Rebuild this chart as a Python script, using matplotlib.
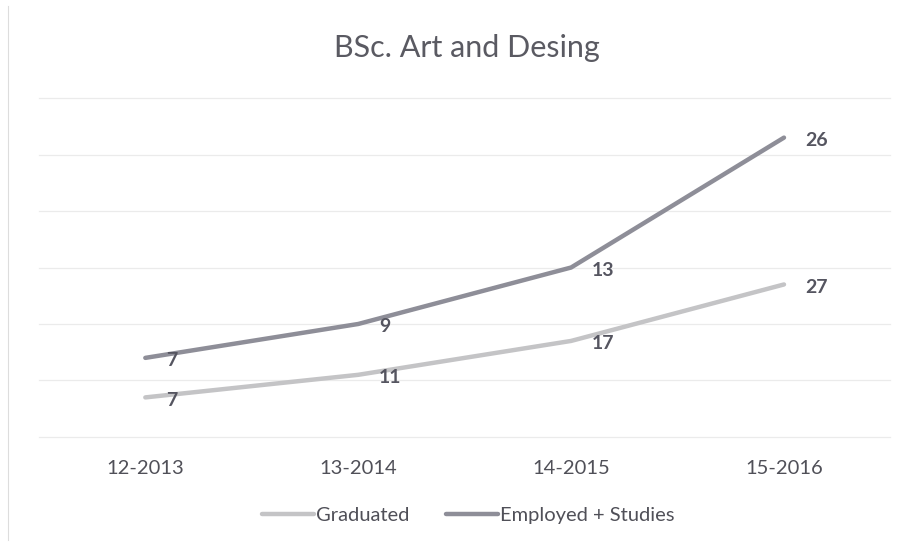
import matplotlib
matplotlib.use("Agg")
import matplotlib.pyplot as plt
import numpy as np

plt.rcParams['font.family'] = ['Lato', 'DejaVu Sans']

categories = ["12-2013", "13-2014", "14-2015", "15-2016"]
graduated = [7, 11, 17, 27]
employed = [7, 9, 13, 26]
series_names = ["Graduated", "Employed + Studies"]
title = "BSc. Art and Desing"

fig = plt.figure(figsize=(9.04, 5.51), dpi=100)
ax = fig.add_axes([0.043, 0.207, 0.942, 0.615])

x = np.arange(len(categories))
stack1 = np.array(graduated)
stack2 = stack1 + np.array(employed)

c_grad = "#c4c4c6"
c_emp = "#8e8e98"
ax.plot(x, stack1, color=c_grad, lw=3.2, solid_capstyle='round', label=series_names[0], zorder=3)
ax.plot(x, stack2, color=c_emp, lw=3.2, solid_capstyle='round', label=series_names[1], zorder=3)

for xi, yi, v in zip(x, stack1, graduated):
    ax.annotate(str(v), (xi, yi), xytext=(15, -2), textcoords='offset points',
                ha='left', va='center', fontsize=14, fontweight='bold', color="#555560", zorder=4)
for xi, yi, v in zip(x, stack2, employed):
    ax.annotate(str(v), (xi, yi), xytext=(15, -2), textcoords='offset points',
                ha='left', va='center', fontsize=14, fontweight='bold', color="#555560", zorder=4)

ax.set_xlim(-0.5, len(categories) - 0.5)
ax.set_ylim(0, 60)
ax.set_yticks(np.arange(0, 61, 10))
ax.yaxis.grid(True, color="#ebebeb", lw=0.9)
for gl in ax.get_ygridlines():
    gl.set_clip_on(False)
ax.set_axisbelow(True)
ax.tick_params(axis='y', left=False, labelleft=False)
ax.tick_params(axis='x', bottom=False, labelsize=14.5, labelcolor="#505058", pad=13)
ax.set_xticks(x)
ax.set_xticklabels(categories)
for s in ax.spines.values():
    s.set_visible(False)

fig.text(0.516, 0.912, title, ha='center', va='center', fontsize=22, color="#5a5a62")

leg = fig.legend(loc='center', bbox_to_anchor=(0.518, 0.065), ncol=2, frameon=False,
                 fontsize=14.5, handlelength=2.6, handletextpad=0.1, columnspacing=1.8)
for t in leg.get_texts():
    t.set_color("#505058")

fig.add_artist(plt.Line2D([0.009, 0.009], [0.02, 0.99], color="#dddddd", lw=0.8))

fig.savefig("out.png", dpi=100, facecolor="white")
